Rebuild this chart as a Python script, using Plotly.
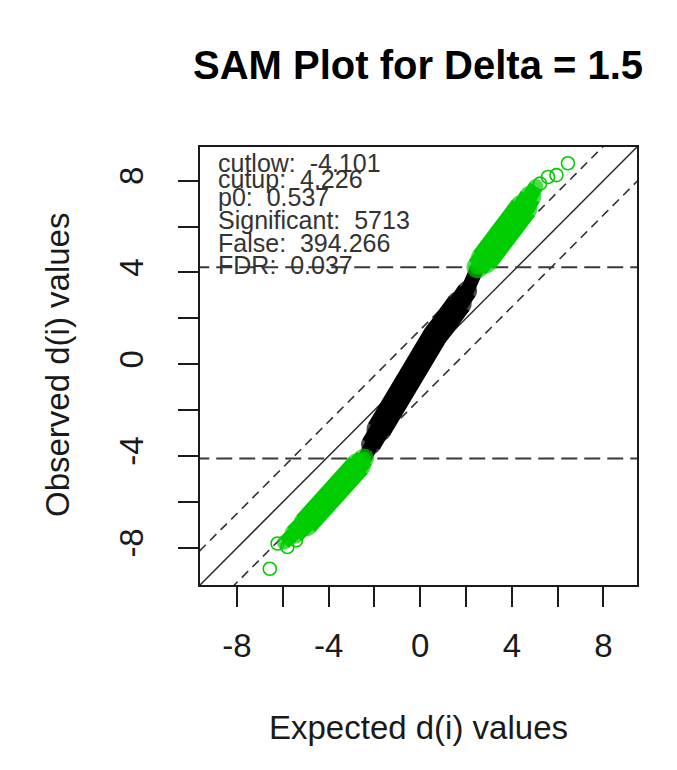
import plotly.graph_objects as go

# ---------------- data ----------------
# non-significant genes (black band), centre line of the band
black_expected = [-2.4, -2.15, -1.8, -1.45, -1.1, -0.75, -0.4, -0.05, 0.3, 0.65, 1.0, 1.35, 1.7, 2.05, 2.45]
black_observed = [-4.05, -3.5, -2.85, -2.2, -1.58, -0.98, -0.4, 0.2, 0.75, 1.25, 1.7, 2.15, 2.65, 3.2, 4.1]

# significant genes, lower tail (green band)
low_expected = [-5.95, -5.5, -5.0, -4.5, -4.0, -3.5, -3.0, -2.7, -2.45]
low_observed = [-7.78, -7.4, -6.95, -6.45, -5.9, -5.3, -4.75, -4.4, -4.1]
low_sparse_expected = [-6.57, -6.23, -5.8, -5.42]
low_sparse_observed = [-8.91, -7.81, -7.96, -7.67]

# significant genes, upper tail (green band)
up_expected = [2.5, 2.8, 3.15, 3.5, 3.85, 4.2, 4.5, 4.8, 5.05]
up_observed = [4.23, 4.55, 4.95, 5.35, 5.8, 6.3, 6.8, 7.3, 7.75]
up_sparse_expected = [5.23, 5.58, 5.95, 6.45]
up_sparse_observed = [7.87, 8.16, 8.24, 8.76]

delta = 1.5
cutlow = -4.101
cutup = 4.226
stats_labels = ["cutlow:  -4.101", "cutup:  4.226", "p0:  0.537",
                "Significant:  5713", "False:  394.266", "FDR:  0.037"]

tick_vals = [-8, -6, -4, -2, 0, 2, 4, 6, 8]
tick_text = ["-8", "", "-4", "", "0", "", "4", "", "8"]

title_text = "SAM Plot for Delta = 1.5"
x_title = "Expected d(i) values"
y_title = "Observed d(i) values"

# ---------------- figure ----------------
FONT = "Liberation Sans, Arial, sans-serif"
GREEN = "#00CD00"
W, H = 677, 770
ML, MR, MT, MB = 200, 40, 147, 185

all_obs = black_observed + low_observed + low_sparse_observed + up_observed + up_sparse_observed
lo, hi = min(all_obs), max(all_obs)
pad = 0.04 * (hi - lo)
rng = [lo - pad, hi + pad]
ext = [-30, 30]

fig = go.Figure()

# reference lines
fig.add_trace(go.Scatter(x=ext, y=ext, mode="lines",
                         line=dict(color="#2a2a2a", width=1.5), hoverinfo="skip"))
for s in (delta, -delta):
    fig.add_trace(go.Scatter(x=ext, y=[e + s for e in ext], mode="lines",
                             line=dict(color="#333333", width=1.6, dash="9px,6px"), hoverinfo="skip"))
for c in (cutup, cutlow):
    fig.add_trace(go.Scatter(x=ext, y=[c, c], mode="lines",
                             line=dict(color="#3a3a3a", width=2, dash="16px,7px"), hoverinfo="skip"))


def band(ex, ob, col, layers):
    """Densely packed points drawn as a band that is thinner at its ends (round caps)."""
    n = len(ex)
    for (a, b), wd in layers:
        end = n + b
        sx, sy = ex[a:end], ob[a:end]
        sizes = [0] * len(sx)
        sizes[0] = wd
        sizes[-1] = wd
        fig.add_trace(go.Scatter(x=sx, y=sy, mode="lines+markers",
                                 line=dict(color=col, width=wd),
                                 marker=dict(symbol="circle", size=sizes, color=col, line=dict(width=0)),
                                 hoverinfo="skip"))


band(black_expected, black_observed, "black", [((0, 0), 14), ((1, -1), 20), ((2, -2), 25)])
band(low_expected, low_observed, GREEN, [((0, 0), 14), ((1, 0), 20), ((2, -1), 25)])
band(up_expected, up_observed, GREEN, [((0, 0), 15), ((0, -1), 22), ((1, -2), 28)])

for ex, ob in ((low_sparse_expected, low_sparse_observed), (up_sparse_expected, up_sparse_observed)):
    fig.add_trace(go.Scatter(x=ex, y=ob, mode="markers",
                             marker=dict(symbol="circle-open", size=13, color=GREEN, line=dict(width=1.6))))

axis_common = dict(range=rng, showgrid=False, zeroline=False, showline=True, mirror=True,
                   linecolor="#1a1a1a", linewidth=1.8, ticks="outside", ticklen=20,
                   tickwidth=1.5, tickcolor="#1a1a1a", tickvals=tick_vals, ticktext=tick_text,
                   tickfont=dict(family=FONT, size=33, color="#1a1a1a"))
fig.update_xaxes(**axis_common, ticklabelstandoff=10)
fig.update_yaxes(**axis_common, tickangle=-90, ticklabelstandoff=22)

pw, ph = W - ML - MR, H - MT - MB


def px(xp):
    return (xp - ML) / pw


def py(yp):
    return (H - MB - yp) / ph


ann = []
ann.append(dict(text="<b>" + title_text + "</b>", x=px(418), y=py(65), xref="paper", yref="paper",
                showarrow=False, xanchor="center", yanchor="middle",
                font=dict(family=FONT, size=40, color="black")))
ann.append(dict(text=x_title, x=px(418), y=py(727), xref="paper", yref="paper",
                showarrow=False, xanchor="center", yanchor="middle",
                font=dict(family=FONT, size=33, color="#1a1a1a")))
ann.append(dict(text=y_title, x=px(57), y=py(365), xref="paper", yref="paper", textangle=-90,
                showarrow=False, xanchor="center", yanchor="middle",
                font=dict(family=FONT, size=33, color="#1a1a1a")))
baselines = [173, 189, 207, 230, 253, 275]
for t, b in zip(stats_labels, baselines):
    ann.append(dict(text=t, x=px(216), y=py(b + 6), xref="paper", yref="paper",
                    showarrow=False, xanchor="left", yanchor="bottom",
                    font=dict(family=FONT, size=25, color="#333333")))

fig.update_layout(width=W, height=H, margin=dict(l=ML, r=MR, t=MT, b=MB),
                  paper_bgcolor="white", plot_bgcolor="white", showlegend=False,
                  annotations=ann)

fig.write_html("out.html")
